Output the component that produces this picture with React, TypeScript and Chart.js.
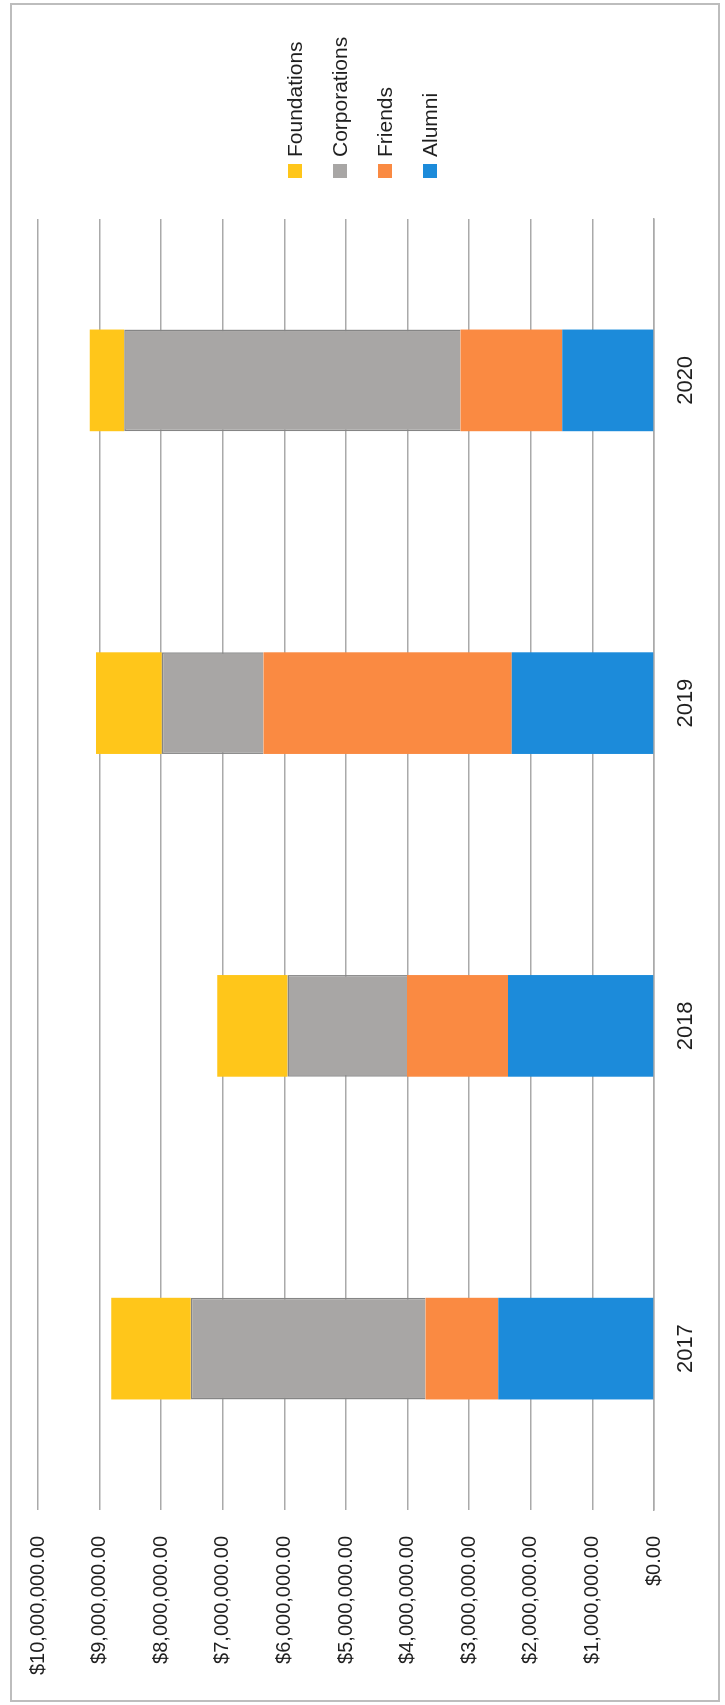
import React, { useEffect, useRef } from "react";
import { Chart, registerables } from "chart.js";

Chart.register(...registerables);

const categories = ["2017", "2018", "2019", "2020"];
const alumni = [2530000, 2370000, 2310000, 1490000];
const friends = [1180000, 1640000, 4030000, 1650000];
const corporations = [3810000, 1940000, 1650000, 5460000];
const foundations = [1290000, 1140000, 1070000, 560000];
const valueMax = 10000000;
const valueStep = 1000000;

const FONT = "'Liberation Sans', Arial, sans-serif";
const TEXT = "#1f1f1f";

function money(v: number): string {
  const s = v.toFixed(2);
  const [i, d] = s.split(".");
  return "$" + i.replace(/\B(?=(\d{3})+(?!\d))/g, ",") + "." + d;
}

const legendPlugin = {
  id: "rotLegend",
  afterDraw(chart: any) {
    const ctx = chart.ctx;
    const ds = [...chart.data.datasets].reverse();
    const gap = 45;
    const box = 14;
    const left = chart.chartArea.right + 41;
    const start = chart.height / 2 - ((ds.length - 1) * gap) / 2;
    ctx.save();
    ctx.font = `21px ${FONT}`;
    ctx.textBaseline = "middle";
    ctx.textAlign = "left";
    ds.forEach((d: any, i: number) => {
      const cy = start + i * gap;
      ctx.fillStyle = d.backgroundColor;
      ctx.fillRect(left, cy - box / 2, box, box);
      ctx.fillStyle = TEXT;
      ctx.fillText(d.label, left + box + 7, cy + 1);
    });
    ctx.restore();
  },
};

export default function App() {
  const ref = useRef<HTMLCanvasElement | null>(null);
  useEffect(() => {
    document.body.style.margin = "0";
    if (!ref.current) return;
    const chart = new Chart(ref.current, {
      type: "bar",
      data: {
        labels: categories,
        datasets: [
          { label: "Alumni", data: alumni, backgroundColor: "#1C8BDA" },
          { label: "Friends", data: friends, backgroundColor: "#FA8A42" },
          {
            label: "Corporations",
            data: corporations,
            backgroundColor: "#A8A6A5",
            borderColor: "#858585",
            borderWidth: 1.5,
          },
          { label: "Foundations", data: foundations, backgroundColor: "#FFC61A" },
        ],
      },
      plugins: [legendPlugin],
      options: {
        responsive: false,
        animation: false,
        devicePixelRatio: 1,
        layout: { padding: { left: 0, right: 219, top: 38, bottom: 0 } },
        datasets: { bar: { barPercentage: 0.315, categoryPercentage: 1 } },
        plugins: { legend: { display: false }, tooltip: { enabled: false } },
        scales: {
          x: {
            stacked: true,
            grid: { display: false, drawTicks: false },
            border: { display: true, color: "#aaaaaa", width: 1.5 },
            ticks: { color: TEXT, font: { family: FONT, size: 22 }, padding: 19 },
            afterFit: (s: any) => {
              s.height = 71;
            },
          },
          y: {
            stacked: true,
            min: 0,
            max: valueMax,
            grid: { color: "#aaaaaa", lineWidth: 1.5, drawTicks: false },
            border: { display: false },
            ticks: {
              stepSize: valueStep,
              color: TEXT,
              font: { family: FONT, size: 20 },
              padding: 26,
              callback: (v: any) => money(Number(v)),
            },
            afterFit: (s: any) => {
              s.width = 195;
            },
          },
        },
      },
    });
    return () => chart.destroy();
  }, []);

  return (
    <div style={{ position: "relative", width: 725, height: 1705, overflow: "hidden", background: "#fff" }}>
      <div
        style={{
          position: "absolute",
          left: 0,
          top: 0,
          width: 1705,
          height: 725,
          transformOrigin: "0 0",
          transform: "translateY(1705px) rotate(-90deg)",
        }}
      >
        <canvas ref={ref} width={1705} height={725} style={{ display: "block", width: 1705, height: 725 }} />
      </div>
      <div
        style={{
          position: "absolute",
          left: 10,
          top: 3,
          width: 706,
          height: 1695,
          border: "2px solid #bdbdbd",
          pointerEvents: "none",
        }}
      />
    </div>
  );
}
